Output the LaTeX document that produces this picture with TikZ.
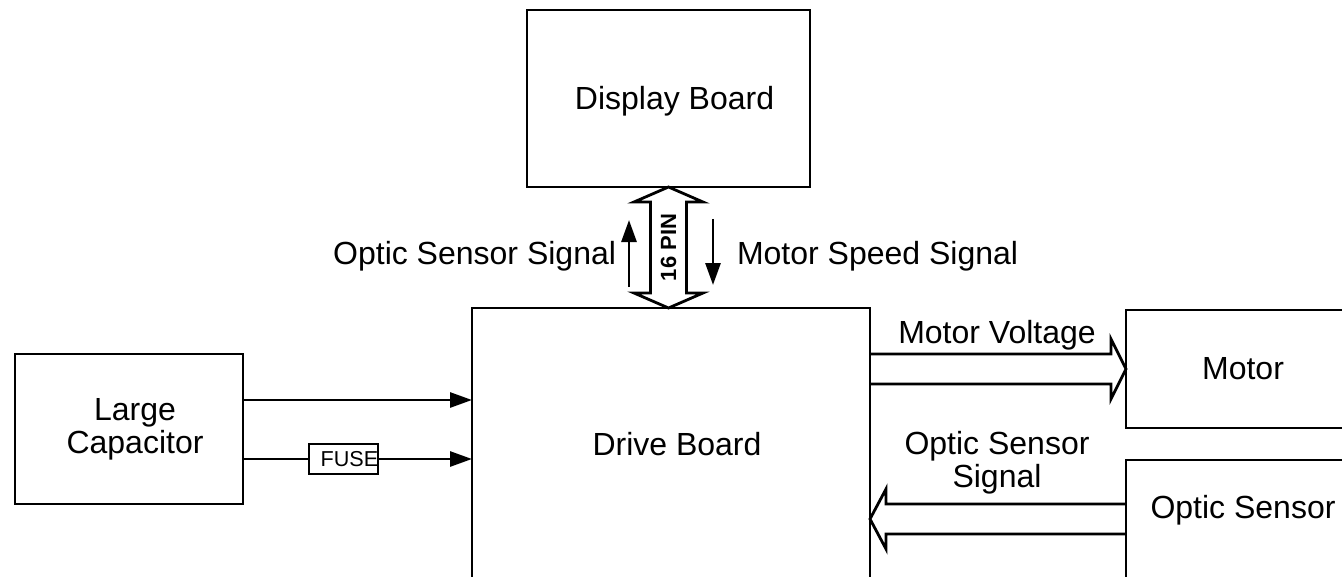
\documentclass[tikz,border=0pt]{standalone}
\usepackage{fontspec}
\setmainfont{Liberation Sans}
\usetikzlibrary{arrows.meta,calc,positioning}
\tikzset{
  blok/.style={draw, line width=1.4pt, inner sep=0pt, outer sep=0pt},
  txt/.style={inner sep=0pt, outer sep=0pt, align=center, font=\fontsize{16}{16.5}\selectfont},
  bloktekst/.style={label={[txt, xshift=3pt]center:#1}},
  pijl/.style={line width=1.4pt, -{Triangle[length=11pt,width=7.5pt]}},
  hol/.style={line width=1.4pt, line join=miter},
  zekering/.style={draw, fill=white, line width=1.4pt, inner sep=0pt, outer sep=0pt,
    minimum width=34.5pt, minimum height=15pt},
}
\begin{document}
\begin{tikzpicture}[x=0.5pt,y=-0.5pt]
	\useasboundingbox (0,0) rectangle (1342,577);
	\clip (0,0) rectangle (1342,577);
	%blokken
	\node[blok, anchor=north west, minimum width=141.5pt, minimum height=88.5pt,
		label={[txt, xshift=3pt, yshift=-1.3pt]center:Display Board}] (display) at (527,10) {};
	\node[blok, anchor=north west, minimum width=199pt, minimum height=136pt,
		bloktekst=Drive Board] (drive) at (472,308) {};
	\node[blok, anchor=north west, minimum width=114pt, minimum height=75pt,
		bloktekst={Large\\Capacitor}] (cap) at (15,354) {};
	\node[blok, anchor=north west, minimum width=117pt, minimum height=59pt] (motor) at (1126,310) {};
	\node[txt] (motortxt) at (motor.center) {Motor};
	\node[blok, anchor=north west, minimum width=117pt, minimum height=70pt] (optic) at (1126,460) {};
	\node[txt] (optictxt) at ($(optic.north)+(0,50)$) {Optic Sensor};
	%16 pin verbinding
	\draw[hol] (display.south) -- ++(34.5,15) -- ++(-16.5,0) -- ++(0,91) -- ++(16.5,0)
		-- ++(-34.5,15) -- ++(-34.5,-15) -- ++(16.5,0) -- ++(0,-91) -- ++(-16.5,0) -- cycle;
	\node[inner sep=0pt, rotate=90, font=\bfseries\fontsize{11}{13}\selectfont] (pin) at ($(display.south)+(0,60.5)$) {16 PIN};
	\coordinate (osa) at (629,287);
	\coordinate (osb) at (629,220);
	\draw[pijl] (osa) -- (osb);
	\coordinate (msa) at (713,219);
	\coordinate (msb) at (713,285);
	\draw[pijl] (msa) -- (msb);
	\node[txt, anchor=base east] (oslbl) at (616,264) {Optic Sensor Signal};
	\node[txt, anchor=base west] (mslbl) at (737,264) {Motor Speed Signal};
	%condensator naar drive board
	\coordinate (c1) at ($(cap.north east)+(0,46)$);
	\coordinate (c2) at ($(cap.north east)+(0,105)$);
	\draw[pijl] (c1) -- (c1 -| drive.west);
	\node[zekering] (fuse) at ($(c2)+(100.5,0)$) {};
	\node[inner sep=0pt, font=\fontsize{10.8}{12}\selectfont] (fusetxt) at ($(fuse.center)+(6,0)$) {FUSE};
	\draw[line width=1.4pt] (c2) -- (fuse.west);
	\draw[pijl] (fuse.east) -- (fuse.east -| drive.west);
	%motorspanning
	\draw[hol] ($(drive.east |- motor.west)+(0,-15)$) -- ($(motor.west)+(-15,-15)$) -- ++(0,-15)
		-- (motor.west) -- ++(-15,30) -- ++(0,-15) -- ($(drive.east |- motor.west)+(0,15)$);
	\node[txt, anchor=base] (mvlbl) at (997,343) {Motor Voltage};
	%sensor signaal terug
	\coordinate (osin) at ($(optic.north west)+(0,59)$);
	\draw[hol] ($(osin)+(0,-15)$) -- ($(osin -| drive.east)+(16,-15)$) -- ++(0,-15)
		-- (osin -| drive.east) -- ++(16,30) -- ++(0,-15) -- ($(osin)+(0,15)$);
	\node[txt] (oslbl2) at (997,463) {Optic Sensor\\Signal};
\end{tikzpicture}
\end{document}
